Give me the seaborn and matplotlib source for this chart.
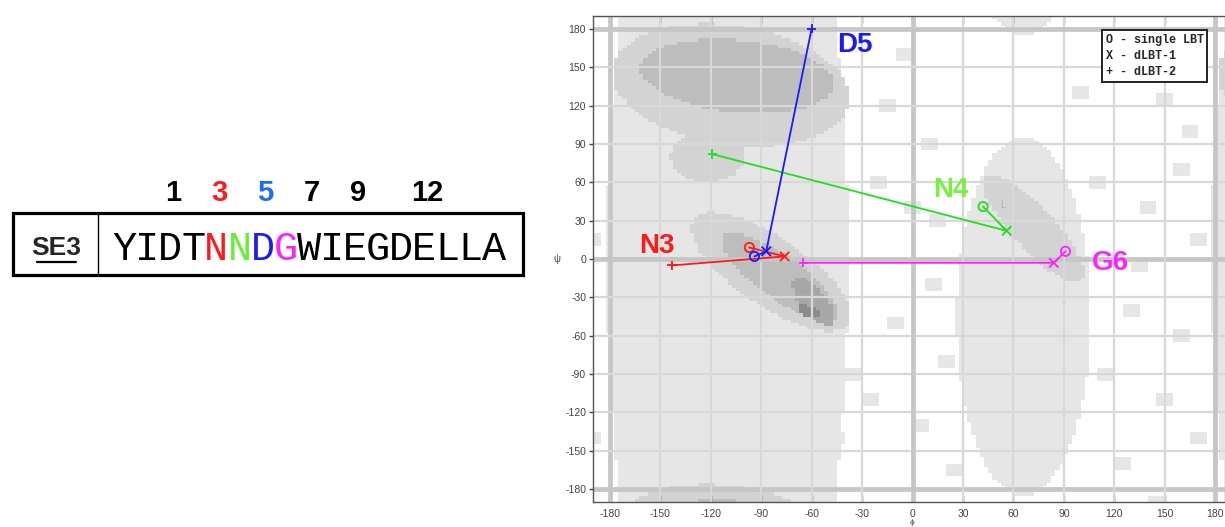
import numpy as np
import pandas as pd
import matplotlib
matplotlib.use("Agg")
import matplotlib.pyplot as plt
from matplotlib.colors import ListedColormap, BoundaryNorm
from matplotlib.patches import Rectangle
import seaborn as sns

sns.set_theme(style="white")
plt.rcParams['font.family'] = ['Liberation Sans', 'DejaVu Sans']

# ---- backbone dihedrals (phi, psi) for the four labelled residues ----
residues = ['N3', 'N4', 'D5', 'G6']
line_colors = ['#ff1a1a', '#1ee01e', '#1a1aff', '#ff22ff']
label_colors = ['#ff1a1a', '#77f040', '#1a1aff', '#ff22ff']
single_phi = [-97, 42, -94, 91]
single_psi = [9, 41, 2, 6]
dlbt1_phi = [-76, 56, -87, 84]
dlbt1_psi = [2, 22, 6, -3]
dlbt2_phi = [-143, -119, -60, -65]
dlbt2_psi = [-5, 82, 180, -3]

# sequence panel
seq_name = 'SE3'
sequence = 'YIDTNNDGWIEGDELLA'
residue_numbers = [1, 3, 5, 7, 9, 12]
number_colors = ['black', '#ff1a1a', '#1a6cff', 'black', 'black', 'black']
letter_colors = {4: '#ff1a1a', 5: '#66ee33', 6: '#1a1aff', 7: '#ff22ff'}

# Ramachandran background: elliptical population regions (level, phi0, psi0, a, b, angle)
regions = [
    (1, -110, 0, 72, 400, 0),
    (1, 66, -45, 40, 140, 0),
    (2, -108, 136, 72, 46, -14),
    (2, -122, 80, 22, 20, 0),
    (2, -84, -10, 62, 24, -44),
    (2, 72, 24, 50, 14, -56),
    (3, -104, 143, 58, 28, -8),
    (3, -79, -14, 46, 15, -45),
    (4, -59, -33, 21, 8, -60),
    (5, -61, -41, 8, 4, -30),
]
# sparsely populated cells outside the main regions (phi, psi)
sparse_phi = [120, 150, 165, 110, 140, 170, 130, 160, 115, 150, 170, 125, 100, 145,
              -15, 10, -20, 15, -10, 20, -25, 5, 25, -5, 12, -35, -45, 0, 135, 160]
sparse_psi = [150, 125, 100, 60, 40, 15, -40, -60, -90, -110, -140, -160, 130, 170,
              120, 90, 60, 30, -50, -80, -110, -130, -165, 160, -20, -90, -140, 40, -5, 70]
level_colors = ['#ffffff', '#e6e6e6', '#d3d3d3', '#bdbdbd', '#a7a7a7', '#8c8c8c']

W, H, DPI = 1225, 527, 100
fig = plt.figure(figsize=(W / DPI, H / DPI), dpi=DPI)
fig.patch.set_facecolor('white')

# ---------------- Ramachandran plot ----------------
ax = fig.add_axes([593 / W, 25 / H, (1232 - 593) / W, 486 / H])
step = 2.5
edges = np.arange(-190, 190 + step, step)
centers = (edges[:-1] + edges[1:]) / 2
PHI, PSI = np.meshgrid(centers, centers)
level = np.zeros_like(PHI)
for lv, p0, s0, a, b, ang in regions:
    dphi = (PHI - p0 + 180) % 360 - 180
    dpsi = (PSI - s0 + 180) % 360 - 180
    t = np.deg2rad(ang)
    u = dphi * np.cos(t) + dpsi * np.sin(t)
    v = -dphi * np.sin(t) + dpsi * np.cos(t)
    inside = (u / a) ** 2 + (v / b) ** 2 <= 1
    level = np.where(inside, np.maximum(level, lv), level)
for p0, s0 in zip(sparse_phi, sparse_psi):
    dphi = (PHI - p0 + 180) % 360 - 180
    dpsi = (PSI - s0 + 180) % 360 - 180
    inside = (np.abs(dphi) <= 5) & (np.abs(dpsi) <= 4)
    level = np.where(inside, np.maximum(level, 1), level)
cmap = ListedColormap(level_colors)
norm = BoundaryNorm(np.arange(-0.5, 6.5, 1), cmap.N)
ax.pcolormesh(edges, edges, level, cmap=cmap, norm=norm, shading='flat', zorder=0)
ax.text(54, 42, 'L', color='#b8a8b8', fontsize=7, ha='center', va='center', zorder=1)

ticks = np.arange(-180, 181, 30)
for t in ticks:
    major = t in (-180, 0, 180)
    lw = 3.4 if major else 1.6
    col = '#c6c6c6' if major else '#d8d8d8'
    ax.axvline(t, color=col, lw=lw, zorder=1)
    ax.axhline(t, color=col, lw=lw, zorder=1)

# dihedral pathways: single LBT -> dLBT-1 -> dLBT-2
rows = []
for i, r in enumerate(residues):
    rows.append((r, 'single LBT', single_phi[i], single_psi[i], 0))
    rows.append((r, 'dLBT-1', dlbt1_phi[i], dlbt1_psi[i], 1))
    rows.append((r, 'dLBT-2', dlbt2_phi[i], dlbt2_psi[i], 2))
df = pd.DataFrame(rows, columns=['residue', 'state', 'phi', 'psi', 'order'])
pal = dict(zip(residues, line_colors))

sns.lineplot(data=df, x='phi', y='psi', hue='residue', units='residue', estimator=None,
             sort=False, palette=pal, lw=1.3, legend=False, ax=ax, zorder=3)
sub = df[df.state != 'single LBT']
sns.scatterplot(data=sub, x='phi', y='psi', hue='residue', style='state',
                markers={'dLBT-1': 'x', 'dLBT-2': '+'}, palette=pal, s=45,
                linewidth=1.3, legend=False, ax=ax, zorder=4)
circ = df[df.state == 'single LBT']
ax.scatter(circ.phi, circ.psi, s=45, facecolors='none',
           edgecolors=[pal[r] for r in circ.residue], linewidths=1.3, zorder=4)

label_pos = {'N3': (-152, 10), 'N4': (23, 54), 'D5': (-34, 167), 'G6': (118, -3)}
for r, c in zip(residues, label_colors):
    x, y = label_pos[r]
    ax.text(x, y, r, color=c, fontsize=20, fontweight='bold', ha='center', va='center', zorder=5)

ax.text(115, 176, 'O - single LBT\nX - dLBT-1\n+ - dLBT-2', family='Liberation Mono',
        fontweight='bold', fontsize=8.5, ha='left', va='top', linespacing=1.45, zorder=6,
        bbox=dict(boxstyle='square,pad=0.3', fc='white', ec='#222222', lw=1.4))

ax.set_xlim(-190, 190)
ax.set_ylim(-190, 190)
ax.set_xticks(ticks)
ax.set_yticks(ticks)
ax.set_xticklabels([str(t) for t in ticks])
ax.set_yticklabels([str(t) for t in ticks])
ax.tick_params(axis='x', direction='in', length=5, width=1, color='#444444', top=True,
               bottom=True, labelsize=7.5, labelcolor='#444444', pad=5)
ax.tick_params(axis='y', direction='out', length=3, width=1, color='#444444', left=True,
               labelsize=7.5, labelcolor='#444444', pad=2)
ax.set_xlabel('ϕ', fontsize=6, color='#444444', labelpad=0)
ax.set_ylabel('ψ', fontsize=7, color='#444444', labelpad=6, rotation=0, va='center')
for s in ax.spines.values():
    s.set_color('#555555')
    s.set_linewidth(1.0)
ax.grid(False)

# ---------------- sequence panel ----------------
sax = fig.add_axes([0, 0, 1, 1], facecolor='none')
sax.set_xlim(0, W)
sax.set_ylim(H, 0)
sax.axis('off')
sax.add_patch(Rectangle((13, 213), 510, 62, fill=False, ec='black', lw=2.3))
sax.plot([98, 98], [213, 275], color='black', lw=1.0)
sax.text(56, 248, seq_name, fontsize=19, fontweight='bold', ha='center', va='center')
sax.plot([37, 76], [262, 262], color='black', lw=1.6)

x0, dx = 124, 23.1
for i, ch in enumerate(sequence):
    sax.text(x0 + i * dx, 249, ch, family='Liberation Mono', fontsize=29,
             color=letter_colors.get(i, 'black'), ha='center', va='center')
for n, c in zip(residue_numbers, number_colors):
    sax.text(x0 + (n + 1) * dx + 3, 193, str(n), fontsize=21, fontweight='bold',
             color=c, ha='center', va='center')

fig.savefig('out.png', dpi=DPI)
